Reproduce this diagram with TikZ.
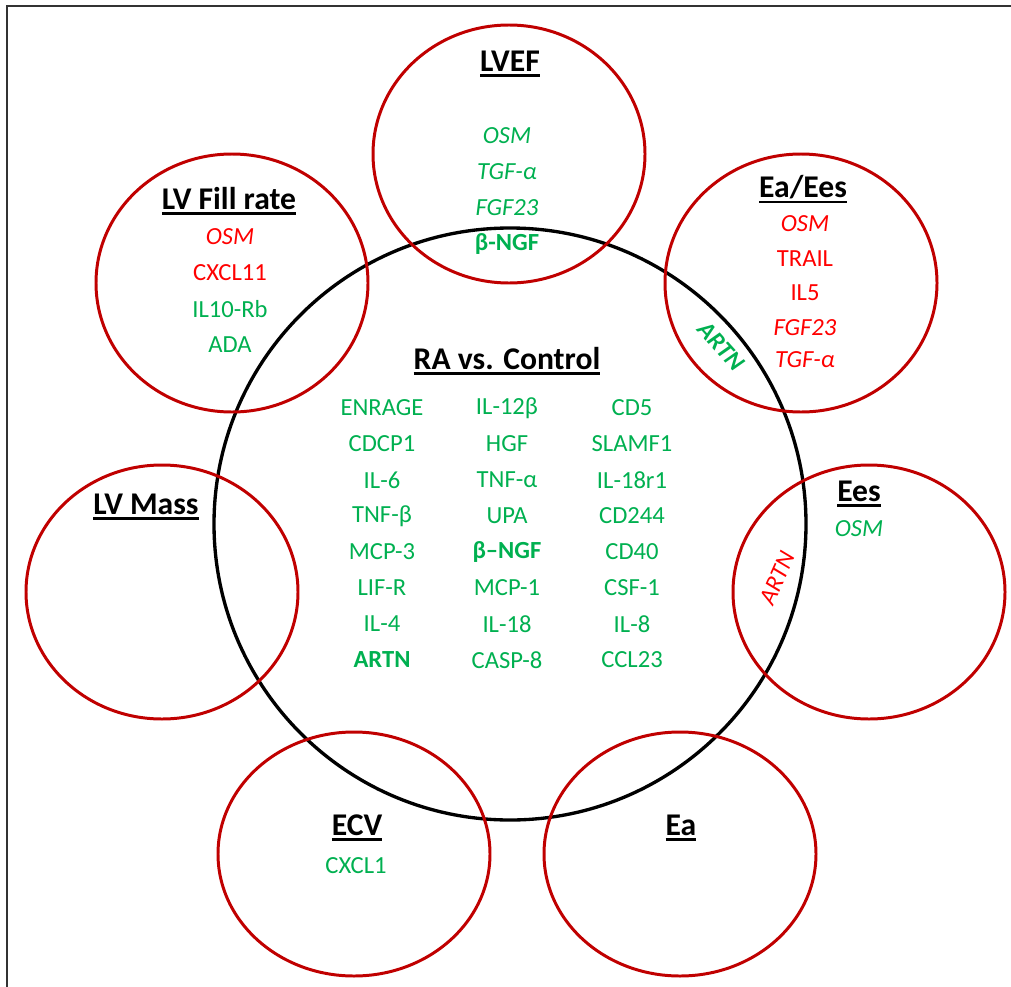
\documentclass[tikz,border=0pt]{standalone}
\usepackage{fontspec}
\setmainfont{Carlito}
\usetikzlibrary{positioning}

\definecolor{ringred}{RGB}{192,0,0}
\definecolor{upgreen}{RGB}{0,176,80}
\definecolor{downred}{RGB}{255,0,0}

% underlined heading
\newcommand{\heading}[1]{\setbox0\hbox{#1}\vtop{\copy0\kern1.3pt\hrule height 1.4pt width \wd0}}

\tikzstyle{ring} = [draw=ringred, line width=1.7pt]
\tikzstyle{mainring} = [draw=black, line width=1.9pt]
\tikzstyle{title} = [font=\fontsize{18}{22}\selectfont\bfseries, inner sep=0pt]
\tikzstyle{gene} = [text=upgreen, font=\fontsize{14}{16}\selectfont, inner sep=0pt]
\tikzstyle{genedown} = [gene, text=downred]

\begin{document}
\begin{tikzpicture}[x=0.02cm, y=-0.02cm, node distance=0.72cm]

    \useasboundingbox (0,0) rectangle (1011,987);
    % frame
    \draw[black!80, line width=1.3pt] (7,987) -- (7,6) -- (1011,6);

    % circles
    \draw[mainring] (510,524) circle [radius=296];
    \draw[ring] (509,154) ellipse [x radius=136, y radius=129];
    \draw[ring] (232,283) ellipse [x radius=136, y radius=129];
    \draw[ring] (801,283) ellipse [x radius=136, y radius=129];
    \draw[ring] (162,592) ellipse [x radius=136, y radius=127];
    \draw[ring] (869,592) ellipse [x radius=136, y radius=127];
    \draw[ring] (354,854) ellipse [x radius=136, y radius=122];
    \draw[ring] (680,854) ellipse [x radius=136, y radius=122];

    % RA vs. Control
    \node [title] (ractrl) at (507,361) {\heading{RA vs. Control}};
    \node [gene] (enrage) at (382,408) {ENRAGE};
    \node [gene, below of=enrage] (cdcp1) {CDCP1};
    \node [gene, below of=cdcp1] (il6) {IL-6};
    \node [gene, below of=il6] (tnfb) {TNF-β};
    \node [gene, below of=tnfb] (mcp3) {MCP-3};
    \node [gene, below of=mcp3] (lifr) {LIF-R};
    \node [gene, below of=lifr] (il4) {IL-4};
    \node [gene, below of=il4] (artn) {\bfseries ARTN};
    \node [gene] (il12b) at (507,408) {IL-12β};
    \node [gene, below of=il12b] (hgf) {HGF};
    \node [gene, below of=hgf] (tnfa) {TNF-α};
    \node [gene, below of=tnfa] (upa) {UPA};
    \node [gene, below of=upa] (bngf) {\bfseries β–NGF};
    \node [gene, below of=bngf] (mcp1) {MCP-1};
    \node [gene, below of=mcp1] (il18) {IL-18};
    \node [gene, below of=il18] (casp8) {CASP-8};
    \node [gene] (cd5) at (632,408) {CD5};
    \node [gene, below of=cd5] (slamf1) {SLAMF1};
    \node [gene, below of=slamf1] (il18r1) {IL-18r1};
    \node [gene, below of=il18r1] (cd244) {CD244};
    \node [gene, below of=cd244] (cd40) {CD40};
    \node [gene, below of=cd40] (csf1) {CSF-1};
    \node [gene, below of=csf1] (il8) {IL-8};
    \node [gene, below of=il8] (ccl23) {CCL23};

    % LVEF
    \node [title] (lvef) at (510,64) {\heading{LVEF}};
    \node [gene] (lvefosm) at (507,136) {\itshape OSM};
    \node [gene, below of=lvefosm] (leftgf) {\itshape TGF-α};
    \node [gene, below of=leftgf] (lveffgf) {\itshape FGF23};
    \node [gene, below of=lveffgf] (lvefngf) {\bfseries β-NGF};

    % LV Fill rate
    \node [title] (lvfill) at (229,201) {\heading{LV Fill rate}};
    \node [genedown] (fillosm) at (230,237) {\itshape OSM};
    \node [genedown, below of=fillosm] (fillcxcl) {CXCL11};
    \node [gene, below of=fillcxcl] (fillil10) {IL10-Rb};
    \node [gene, below of=fillil10] (fillada) {ADA};

    % Ea/Ees
    \node [title] (eaees) at (803,189) {\heading{Ea/Ees}};
    \node [genedown] (eaeesosm) at (805,224) {\itshape OSM};
    \node [genedown, below of=eaeesosm, node distance=0.69cm] (eaeestrail) {TRAIL};
    \node [genedown, below of=eaeestrail, node distance=0.69cm] (eaeesil5) {IL5};
    \node [genedown, below of=eaeesil5, node distance=0.69cm] (eaeesfgf) {\itshape FGF23};
    \node [genedown, below of=eaeesfgf, node distance=0.64cm] (eaeestgf) {\itshape TGF-α};
    \node [gene, rotate=-48] (eaeesartn) at (721,346) {\bfseries\itshape ARTN};

    % Ees
    \node [title] (ees) at (859,494) {\heading{Ees}};
    \node [gene] (eesosm) at (859,529) {\itshape OSM};
    \node [genedown, rotate=66] (eesartn) at (777,578) {\itshape ARTN};

    % LV Mass
    \node [title] (lvmass) at (146,507) {\heading{LV Mass}};

    % ECV
    \node [title] (ecv) at (357,828) {\heading{ECV}};
    \node [gene] (ecvcxcl) at (356,866) {CXCL1};

    % Ea
    \node [title] (ea) at (681,828) {\heading{Ea}};

\end{tikzpicture}
\end{document}
